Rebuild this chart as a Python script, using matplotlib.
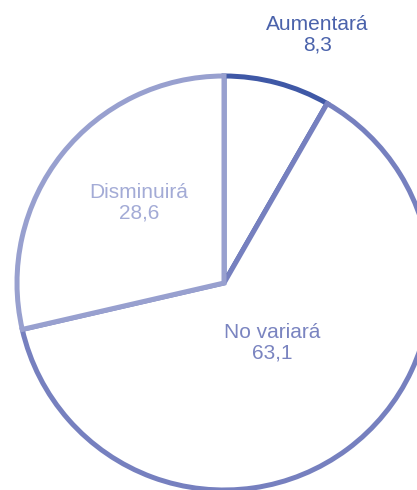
import matplotlib.pyplot as plt

categorias = ['Aumentará', 'No variará', 'Disminuirá']
valores = [8.3, 63.1, 28.6]
colores_borde = ['#3f58a6', '#7680bf', '#98a0cf']
colores_texto = ['#4a62ab', '#7a84c0', '#a3abd6']

# posiciones de las etiquetas (unidades del radio)
pos_etiquetas = [(0.45, 1.20), (0.235, -0.29), (-0.41, 0.386)]

fig = plt.figure(figsize=(4.17, 4.90), dpi=100)
ax = fig.add_axes([0, 0, 1, 1])

wedges, _ = ax.pie(valores, startangle=90, counterclock=False, radius=1,
                   colors=['white'] * 3,
                   wedgeprops=dict(linewidth=3.6, joinstyle='miter'))
for w, c in zip(wedges, colores_borde):
    w.set_edgecolor(c)

for cat, v, (x, y), c in zip(categorias, valores, pos_etiquetas, colores_texto):
    txt = cat + '\n' + ('%.1f' % v).replace('.', ',')
    ax.text(x, y, txt, ha='center', va='center', color=c, fontsize=15,
            family='Liberation Sans', linespacing=1.12)

esc = 207.0
ax.set_xlim(-224 / esc, (417 - 224) / esc)
ax.set_ylim(-(490 - 283) / esc, 283 / esc)
ax.set_aspect('auto')
ax.axis('off')

fig.savefig('out.png', dpi=100)
